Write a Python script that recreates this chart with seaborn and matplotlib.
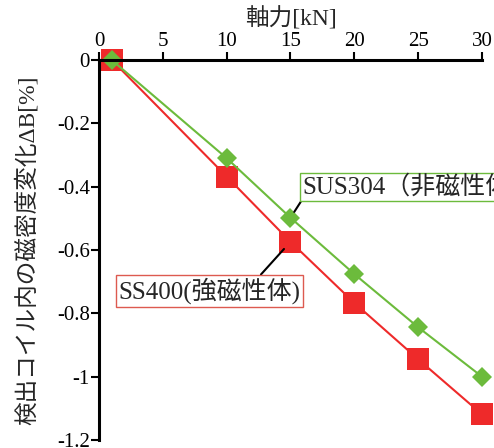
import matplotlib
matplotlib.use("Agg")
import matplotlib.pyplot as plt
import seaborn as sns
import pandas as pd

# axial force [kN]
force = [1, 10, 15, 20, 25, 30]
# change of flux density inside the detection coil [%]
sus304 = [0.0, -0.31, -0.498, -0.676, -0.844, -1.0]
ss400 = [0.0, -0.368, -0.574, -0.767, -0.945, -1.119]

x_ticks = [0, 5, 10, 15, 20, 25, 30]
y_ticks = [0, -0.2, -0.4, -0.6, -0.8, -1.0, -1.2]
y_tick_labels = ["0", "-0.2", "-0.4", "-0.6", "-0.8", "-1", "-1.2"]

red = "#ee2a2a"
green = "#6cbb3c"

sns.set_style("ticks")
plt.rcParams["font.family"] = ["Liberation Serif", "Noto Sans CJK JP"]
plt.rcParams["axes.unicode_minus"] = False

df_ss = pd.DataFrame({"force": force, "dB": ss400})
df_sus = pd.DataFrame({"force": force, "dB": sus304})

fig = plt.figure(figsize=(4.94, 4.48), dpi=100)
ax = fig.add_axes([0.2004, 0.0179, 0.7753, 0.8481])

sns.lineplot(data=df_ss, x="force", y="dB", ax=ax, color=red, marker="s",
             markersize=15.5, markeredgewidth=0, linewidth=1.5, clip_on=False,
             zorder=2)
sns.lineplot(data=df_sus, x="force", y="dB", ax=ax, color=green, marker="D",
             markersize=10.5, markeredgewidth=0, linewidth=1.5, clip_on=False,
             zorder=2.1)

ax.set_xlim(0, 30)
ax.set_ylim(-1.2, 0)
ax.xaxis.tick_top()
ax.xaxis.set_label_position("top")
ax.set_xticks(x_ticks)
ax.set_yticks(y_ticks)
ax.set_yticklabels(y_tick_labels)
ax.tick_params(axis="both", direction="out", length=6, width=1.5,
               labelsize=15, pad=0.5, color="black", labelcolor="black")

for side in ("bottom", "right"):
    ax.spines[side].set_visible(False)
for side in ("top", "left"):
    ax.spines[side].set_linewidth(2.2)
    ax.spines[side].set_color("black")
    ax.spines[side].set_zorder(3)

ax.set_xlabel("軸力[kN]", fontsize=17, labelpad=5)
ax.set_ylabel("検出コイル内の磁密度変化ΔB[%]", fontsize=17, labelpad=13)

ax.annotate("SUS304（非磁性体）", xy=(force[2], sus304[2]),
            xytext=(15.95, -0.401), textcoords="data", fontsize=18,
            ha="left", va="center", annotation_clip=False,
            bbox=dict(boxstyle="square,pad=0.1", fc="white", ec=green, lw=1),
            arrowprops=dict(arrowstyle="-", color="black", lw=1.5,
                            relpos=(0, 0), shrinkA=0, shrinkB=5))
ax.annotate("SS400(強磁性体)", xy=(force[2], ss400[2]),
            xytext=(1.55, -0.729), textcoords="data", fontsize=18,
            ha="left", va="center", annotation_clip=False,
            bbox=dict(boxstyle="square,pad=0.1", fc="white", ec="#dd5a50", lw=1),
            arrowprops=dict(arrowstyle="-", color="black", lw=1.5,
                            relpos=(0.766, 1), shrinkA=0, shrinkB=7))

fig.savefig("out.png", dpi=100)
